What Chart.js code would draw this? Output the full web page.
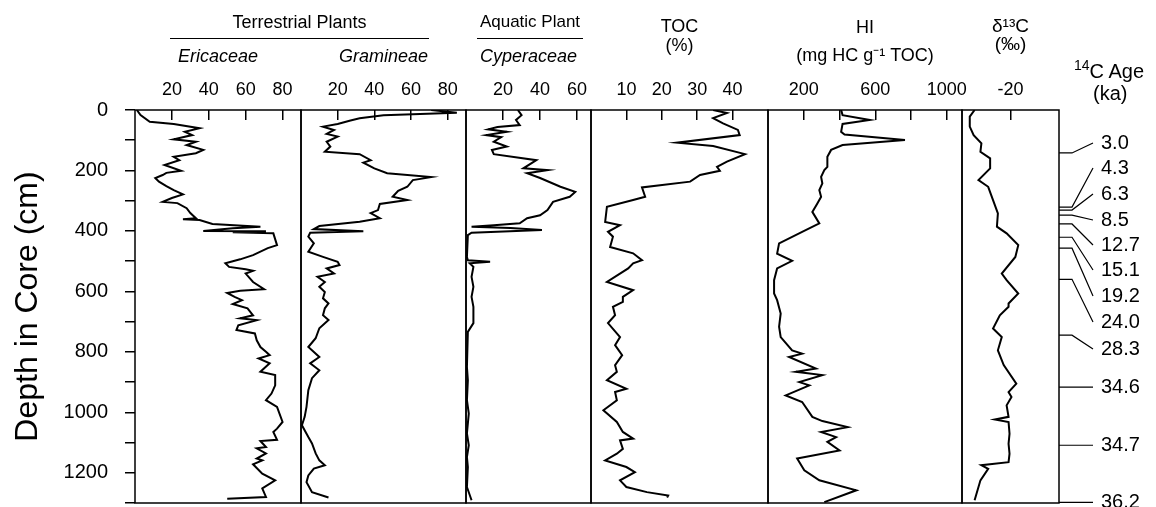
<!DOCTYPE html>
<html>
<head>
<meta charset="utf-8">
<script src="https://cdn.jsdelivr.net/npm/chart.js@4.4.1/dist/chart.umd.min.js"></script>
<style>
  body { margin: 0; background: #fff; font-family: "Liberation Sans", Arial, sans-serif; }
  #wrap { position: relative; width: 1156px; height: 507px; }
  #wrap canvas { position: absolute; left: 0; top: 0; }
  .grp { position: absolute; top: 11px; text-align: center; font-size: 18px; line-height: 22px; white-space: nowrap; }
  .rule { position: absolute; top: 38px; height: 0; border-top: 1.5px solid #000; }
  .hdr { position: absolute; font-size: 20px; line-height: 22px; white-space: nowrap; }
  .hdr sup { font-size: 14px; vertical-align: 8px; line-height: 0; }
</style>
</head>
<body>
<div id="wrap">
  <canvas id="c1" width="1156" height="507"></canvas>
  <canvas id="c2" width="1156" height="507"></canvas>
  <canvas id="c3" width="1156" height="507"></canvas>
  <canvas id="c4" width="1156" height="507"></canvas>
  <canvas id="c5" width="1156" height="507"></canvas>
  <canvas id="c6" width="1156" height="507"></canvas>
  <div class="grp" style="left:170px;width:259px">Terrestrial Plants</div>
  <div class="rule" style="left:170px;width:259px"></div>
  <div class="grp" style="left:460px;width:140px;font-size:17px">Aquatic Plant</div>
  <div class="rule" style="left:477px;width:106px"></div>
  <div class="hdr" style="left:1074px;top:60px"><sup>14</sup>C Age</div>
  <div class="hdr" style="left:1093px;top:82px">(ka)</div>
</div>
<script>
// depth axis
const depthTicks = [0, 100, 200, 300, 400, 500, 600, 700, 800, 900, 1000, 1100, 1200, 1300];
const depthLabelled = [0, 200, 400, 600, 800, 1000, 1200];

// pollen (%)
const ericTicks = [20, 40, 60, 80];
const ericDepth = [0, 17, 39, 46, 60, 72, 83, 97, 105, 116, 132, 143, 155, 166, 182, 201, 208, 215, 225, 237, 252, 265, 279, 291, 304, 308, 325, 341, 358, 361, 364, 377, 386, 391, 400, 401, 404, 408, 447, 457, 480, 494, 507, 519, 527, 532, 541, 569, 593, 598, 605, 618, 629, 642, 656, 679, 689, 695, 712, 728, 739, 762, 784, 800, 811, 822, 838, 866, 877, 911, 938, 960, 982, 1032, 1054, 1065, 1091, 1095, 1115, 1119, 1136, 1153, 1159, 1172, 1203, 1225, 1252, 1280, 1286];
const ericPct = [1, 3, 8, 21, 35, 27, 31, 21, 33, 28, 37, 33, 21, 24, 16, 25, 17, 15, 11, 13, 17, 21, 26, 20, 15, 23, 28, 30, 33, 26, 35, 42, 68, 53, 37, 71, 53, 75, 77, 72, 64, 57, 49, 51, 60, 64, 60, 64, 70, 57, 50, 54, 58, 53, 61, 64, 57, 66, 56, 55, 65, 66, 68, 71, 73, 67, 73, 68, 76, 76, 74, 71, 77, 80, 77, 75, 77, 68, 71, 66, 71, 66, 69, 64, 69, 76, 69, 71, 50];

const gramTicks = [20, 40, 60, 80];
const gramDepth = [0, 9, 17, 27, 35, 46, 55, 66, 79, 88, 105, 121, 138, 146, 166, 174, 193, 209, 222, 232, 254, 267, 287, 298, 311, 331, 341, 358, 370, 384, 394, 401, 406, 419, 441, 469, 486, 502, 513, 524, 541, 552, 569, 585, 602, 623, 640, 656, 679, 695, 722, 755, 784, 817, 838, 861, 887, 927, 982, 1015, 1043, 1082, 1103, 1136, 1159, 1175, 1186, 1209, 1231, 1264, 1282];
const gramPct = [71, 85, 45, 32, 27, 20, 12, 18, 14, 20, 14, 16, 13, 32, 38, 34, 40, 47, 71, 61, 58, 53, 50, 58, 43, 42, 38, 43, 32, 10, 7, 34, 5, 4, 7, 4, 12, 20, 21, 14, 18, 9, 13, 10, 13, 12, 15, 13, 12, 15, 10, 8, 4, 10, 5, 10, 6, 4, 3, 2, 0.5, 4, 6, 8, 10, 13, 7, 4, 3, 6, 15];

const cypTicks = [20, 40, 60];
const cypDepth = [0, 17, 33, 50, 56, 64, 72, 83, 90, 105, 121, 132, 146, 166, 193, 199, 209, 225, 254, 271, 287, 304, 331, 348, 358, 375, 381, 386, 390, 397, 406, 414, 486, 497, 502, 507, 519, 552, 585, 618, 651, 673, 705, 734, 850, 894, 960, 1004, 1070, 1109, 1148, 1181, 1247, 1291];
const cypPct = [28, 30, 27, 29, 17, 12, 22, 11, 19, 15, 22, 14, 15, 38, 31, 44, 33, 40, 51, 59, 56, 47, 44, 40, 33, 29, 15, 3, 24, 41, 3, 1, 0.5, 1, 13, 2, 4, 3, 4, 3, 4, 4, 4, 1, 0.5, 1, 0.5, 1.5, 0.5, 1.5, 0.5, 1, 0.5, 3];

// organic geochemistry
const tocTicks = [10, 20, 30, 40];
const tocDepth = [0, 10, 27, 44, 66, 83, 108, 119, 146, 171, 188, 201, 215, 237, 256, 287, 298, 320, 370, 381, 403, 419, 453, 474, 497, 507, 524, 569, 596, 618, 635, 651, 679, 705, 751, 778, 811, 844, 866, 894, 922, 933, 960, 993, 1032, 1065, 1087, 1093, 1121, 1137, 1159, 1181, 1198, 1225, 1247, 1264, 1275, 1282];
const tocPct = [34.5, 38.4, 34.5, 37.3, 41.5, 42, 24.3, 34.5, 43.5, 38.4, 35.6, 36.4, 30.8, 28, 14.4, 15.3, 11.9, 4.5, 4, 8.2, 4.8, 6.2, 5.4, 11.9, 14.4, 11.9, 10.5, 4.5, 11.9, 9, 9, 6.2, 6.8, 4.8, 8.2, 6.8, 8.8, 6.8, 7.3, 4.5, 10, 6.8, 7.3, 3.5, 7.3, 9, 11.9, 8.2, 9, 7.3, 4, 10, 12.4, 8.2, 10, 15.8, 21.8, 21.5];

const hiTicks = [200, 400, 600, 800, 1000];
const hiTickLabels = { 200: '200', 600: '600', 1000: '1000' };
const hiDepth = [0, 17, 33, 46, 72, 81, 99, 116, 132, 155, 188, 199, 221, 243, 265, 287, 309, 337, 375, 403, 441, 475, 499, 524, 563, 607, 629, 673, 717, 751, 795, 806, 817, 855, 866, 877, 900, 911, 944, 966, 1015, 1029, 1049, 1065, 1082, 1098, 1126, 1153, 1192, 1225, 1258, 1297];
const hiVal = [409, 417, 569, 417, 409, 428, 766, 417, 353, 332, 332, 315, 297, 304, 287, 297, 276, 248, 287, 191, 62, 51, 135, 51, 34, 34, 51, 71, 62, 71, 135, 191, 118, 268, 156, 304, 175, 231, 99, 191, 248, 304, 445, 297, 381, 332, 400, 163, 203, 287, 494, 315];

const d13Ticks = [-20];
const d13Depth = [0, 22, 55, 83, 110, 138, 160, 193, 232, 254, 298, 342, 386, 408, 447, 486, 541, 563, 607, 640, 651, 679, 723, 751, 795, 844, 905, 933, 949, 977, 1015, 1024, 1032, 1071, 1104, 1137, 1165, 1175, 1187, 1225, 1291];
const d13Val = [-23.7, -24.2, -24.2, -23.8, -23, -23.1, -22.1, -22.1, -23.3, -22.3, -21.8, -21.3, -21.4, -20.4, -19.2, -19.5, -20.9, -20.4, -19.2, -20.2, -20.2, -21.1, -21.8, -20.9, -21.3, -20.7, -19.4, -20.2, -19.9, -20.4, -20.2, -21.6, -20.2, -20.1, -20.2, -20.1, -20.2, -23, -22.3, -23.1, -23.7];

// radiocarbon ages tied to depth
const ageLabels = ['3.0', '4.3', '6.3', '8.5', '12.7', '15.1', '19.2', '24.0', '28.3', '34.6', '34.7', '36.2'];
const ageDepths = [142, 321, 331, 348, 377, 421, 457, 560, 745, 917, 1109, 1298];

Chart.defaults.font.family = '"Liberation Sans", Arial, sans-serif';
Chart.defaults.color = '#000';

const toPoints = (vals, depths) => vals.map((v, i) => ({ x: v, y: depths[i] }));

const framePlugin = {
  id: 'frame',
  afterDraw(chart) {
    const { ctx, chartArea: a } = chart;
    ctx.save();
    ctx.strokeStyle = '#000';
    ctx.lineWidth = 1.5;
    ctx.strokeRect(a.left, a.top, a.right - a.left, a.bottom - a.top);
    ctx.restore();
  }
};

// label y of each age, spread out so they don't collide
const agePos = [143, 168, 194, 220, 245, 270, 296, 322, 349, null, null, null];
const agePlugin = {
  id: 'ages',
  afterDraw(chart) {
    const { ctx } = chart;
    const y = chart.scales.y;
    const x0 = chart.chartArea.right;
    ctx.save();
    ctx.strokeStyle = '#000';
    ctx.lineWidth = 1.2;
    ctx.fillStyle = '#000';
    ctx.font = '20px "Liberation Sans", Arial, sans-serif';
    ctx.textBaseline = 'middle';
    ageDepths.forEach((d, i) => {
      const ty = y.getPixelForValue(d);
      const ly = agePos[i] == null ? ty : agePos[i];
      ctx.beginPath();
      ctx.moveTo(x0, ty);
      ctx.lineTo(x0 + 13, ty);
      ctx.lineTo(x0 + 34, ly);
      ctx.stroke();
      ctx.fillText(ageLabels[i], x0 + 42, ly);
    });
    ctx.restore();
  }
};

function makePanel(id, o) {
  const scales = {
    x: {
      position: 'top',
      min: o.min,
      max: o.max,
      afterBuildTicks: s => { s.ticks = o.ticks.map(v => ({ value: v })); },
      afterFit: s => { s.height = 110; s.paddingLeft = 0; s.paddingRight = 0; },
      border: { display: false },
      grid: { drawOnChartArea: false, tickLength: -10, color: '#000', lineWidth: 1.5 },
      ticks: {
        padding: 19, autoSkip: false, maxRotation: 0, font: { size: 18 },
        callback: o.labels ? (v => o.labels[v] || '') : (v => v)
      },
      title: o.title
    },
    y: {
      display: !!o.depthAxis,
      reverse: true,
      min: 0,
      max: 1300,
      afterBuildTicks: s => { s.ticks = depthTicks.map(v => ({ value: v })); },
      afterFit: s => {
        s.width = o.depthAxis ? 135 : 0;
        s.paddingTop = 0;
        s.paddingBottom = 0;
      },
      border: { display: false },
      grid: { drawOnChartArea: false, tickLength: 10, color: '#000', lineWidth: 1.5 },
      ticks: {
        padding: 17, autoSkip: false, font: { size: 20 },
        callback: v => depthLabelled.includes(v) ? v : ''
      },
      title: { display: true, text: 'Depth in Core (cm)', font: { size: 32 }, padding: { top: 9, bottom: 0 } }
    }
  };
  return new Chart(document.getElementById(id), {
    type: 'scatter',
    data: {
      datasets: [{
        data: o.points,
        showLine: true,
        borderColor: '#000',
        borderWidth: 2,
        pointRadius: 0,
        tension: 0
      }]
    },
    options: {
      responsive: false,
      animation: false,
      layout: { padding: { left: o.depthAxis ? 0 : o.left, right: 1156 - o.right, top: 0, bottom: 4 } },
      plugins: { legend: { display: false }, tooltip: { enabled: false } },
      scales: scales
    },
    plugins: o.extra ? [framePlugin, o.extra] : [framePlugin]
  });
}

const italic = { size: 18, style: 'italic' };

makePanel('c1', {
  left: 135, right: 301, min: 0, max: 90, ticks: ericTicks, depthAxis: true,
  points: toPoints(ericPct, ericDepth),
  title: { display: true, text: 'Ericaceae', font: italic, padding: { top: 46, bottom: 0 } }
});
makePanel('c2', {
  left: 301, right: 466, min: 0, max: 90, ticks: gramTicks,
  points: toPoints(gramPct, gramDepth),
  title: { display: true, text: 'Gramineae', font: italic, padding: { top: 46, bottom: 0 } }
});
makePanel('c3', {
  left: 466, right: 591, min: 0, max: 67.5, ticks: cypTicks,
  points: toPoints(cypPct, cypDepth),
  title: { display: true, text: 'Cyperaceae', font: italic, padding: { top: 46, bottom: 0 } }
});
makePanel('c4', {
  left: 591, right: 768, min: 0, max: 50, ticks: tocTicks,
  points: toPoints(tocPct, tocDepth),
  title: { display: true, text: ['TOC', '(%)'], font: { size: 18, lineHeight: '19px' }, padding: { top: 18, bottom: 0 } }
});
makePanel('c5', {
  left: 768, right: 962, min: 0, max: 1085, ticks: hiTicks, labels: hiTickLabels,
  points: toPoints(hiVal, hiDepth),
  title: { display: true, text: ['HI', '(mg HC g\u207B\u00B9 TOC)'], font: { size: 18, lineHeight: '28px' }, padding: { top: 14, bottom: 0 } }
});
makePanel('c6', {
  left: 962, right: 1059, min: -25, max: -15, ticks: d13Ticks,
  points: toPoints(d13Val, d13Depth),
  extra: agePlugin,
  title: { display: true, text: ['\u03B4\u00B9\u00B3C', '(\u2030)'], font: { size: 19, lineHeight: '18px' }, padding: { top: 18, bottom: 0 } }
});
</script>
</body>
</html>
